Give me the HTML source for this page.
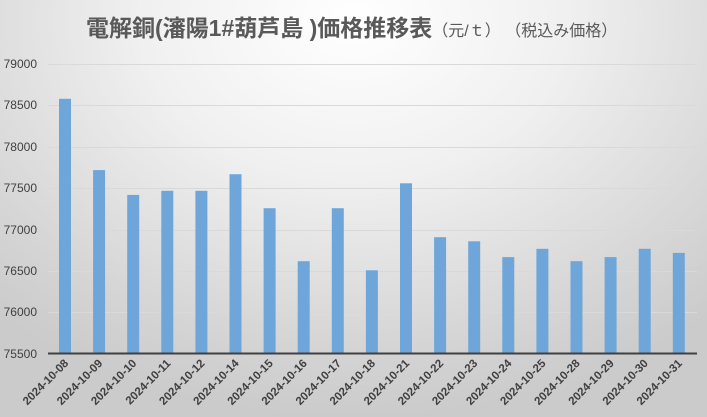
<!DOCTYPE html>
<html><head><meta charset="utf-8"><style>
html,body{margin:0;padding:0}
body{width:707px;height:417px;overflow:hidden;background:radial-gradient(ellipse 75% 95% at 50% 5%,#ffffff 0%,#f0f0f0 40%,#d6d6d6 80%,#cbcbcb 100%);}
svg{position:absolute;left:0;top:0}
</style></head><body>
<svg width="707" height="417" xmlns="http://www.w3.org/2000/svg" font-family="Liberation Sans, Noto Sans CJK JP, sans-serif">
<text x="86" y="36" font-size="23" font-weight="bold" fill="#595959">電解銅(瀋陽1#葫芦島 )価格推移表<tspan font-size="16" font-weight="normal">（元/ｔ） （税込み価格）</tspan></text>
<g stroke="#d9d9d9" stroke-width="1">
<line x1="48" x2="697" y1="64.5" y2="64.5"/><line x1="48" x2="697" y1="105.5" y2="105.5"/><line x1="48" x2="697" y1="147.5" y2="147.5"/><line x1="48" x2="697" y1="188.5" y2="188.5"/><line x1="48" x2="697" y1="230.5" y2="230.5"/><line x1="48" x2="697" y1="271.5" y2="271.5"/><line x1="48" x2="697" y1="312.5" y2="312.5"/>
</g>
<g font-size="12" fill="#404040" text-anchor="end">
<text x="37" y="68">79000</text><text x="37" y="109">78500</text><text x="37" y="151">78000</text><text x="37" y="192">77500</text><text x="37" y="234">77000</text><text x="37" y="275">76500</text><text x="37" y="316">76000</text><text x="37" y="358">75500</text>
</g>
<g fill="#6fa6d9">
<rect x="59" y="98.8" width="12" height="255.2"/>
<rect x="93.1" y="170.1" width="12" height="183.9"/>
<rect x="127.2" y="194.9" width="12" height="159.1"/>
<rect x="161.3" y="190.8" width="12" height="163.2"/>
<rect x="195.4" y="190.8" width="12" height="163.2"/>
<rect x="229.5" y="174.2" width="12" height="179.8"/>
<rect x="263.6" y="208.2" width="12" height="145.8"/>
<rect x="297.7" y="261.2" width="12" height="92.8"/>
<rect x="331.8" y="208.2" width="12" height="145.8"/>
<rect x="365.9" y="270.3" width="12" height="83.7"/>
<rect x="400" y="183.3" width="12" height="170.7"/>
<rect x="434.1" y="237.2" width="12" height="116.8"/>
<rect x="468.2" y="241.3" width="12" height="112.7"/>
<rect x="502.3" y="257.1" width="12" height="96.9"/>
<rect x="536.4" y="248.8" width="12" height="105.2"/>
<rect x="570.5" y="261.2" width="12" height="92.8"/>
<rect x="604.6" y="257.1" width="12" height="96.9"/>
<rect x="638.7" y="248.8" width="12" height="105.2"/>
<rect x="672.8" y="252.9" width="12" height="101.1"/>
</g>
<line x1="48" x2="697" y1="353.5" y2="353.5" stroke="#404040" stroke-width="2"/>
<g font-size="11.5" font-weight="bold" fill="#404040" text-anchor="end">
<text transform="translate(69,364) rotate(-45)">2024-10-08</text>
<text transform="translate(103.1,364) rotate(-45)">2024-10-09</text>
<text transform="translate(137.2,364) rotate(-45)">2024-10-10</text>
<text transform="translate(171.3,364) rotate(-45)">2024-10-11</text>
<text transform="translate(205.4,364) rotate(-45)">2024-10-12</text>
<text transform="translate(239.5,364) rotate(-45)">2024-10-14</text>
<text transform="translate(273.6,364) rotate(-45)">2024-10-15</text>
<text transform="translate(307.7,364) rotate(-45)">2024-10-16</text>
<text transform="translate(341.8,364) rotate(-45)">2024-10-17</text>
<text transform="translate(375.9,364) rotate(-45)">2024-10-18</text>
<text transform="translate(410,364) rotate(-45)">2024-10-21</text>
<text transform="translate(444.1,364) rotate(-45)">2024-10-22</text>
<text transform="translate(478.2,364) rotate(-45)">2024-10-23</text>
<text transform="translate(512.3,364) rotate(-45)">2024-10-24</text>
<text transform="translate(546.4,364) rotate(-45)">2024-10-25</text>
<text transform="translate(580.5,364) rotate(-45)">2024-10-28</text>
<text transform="translate(614.6,364) rotate(-45)">2024-10-29</text>
<text transform="translate(648.7,364) rotate(-45)">2024-10-30</text>
<text transform="translate(682.8,364) rotate(-45)">2024-10-31</text>
</g>
</svg>
</body></html>
